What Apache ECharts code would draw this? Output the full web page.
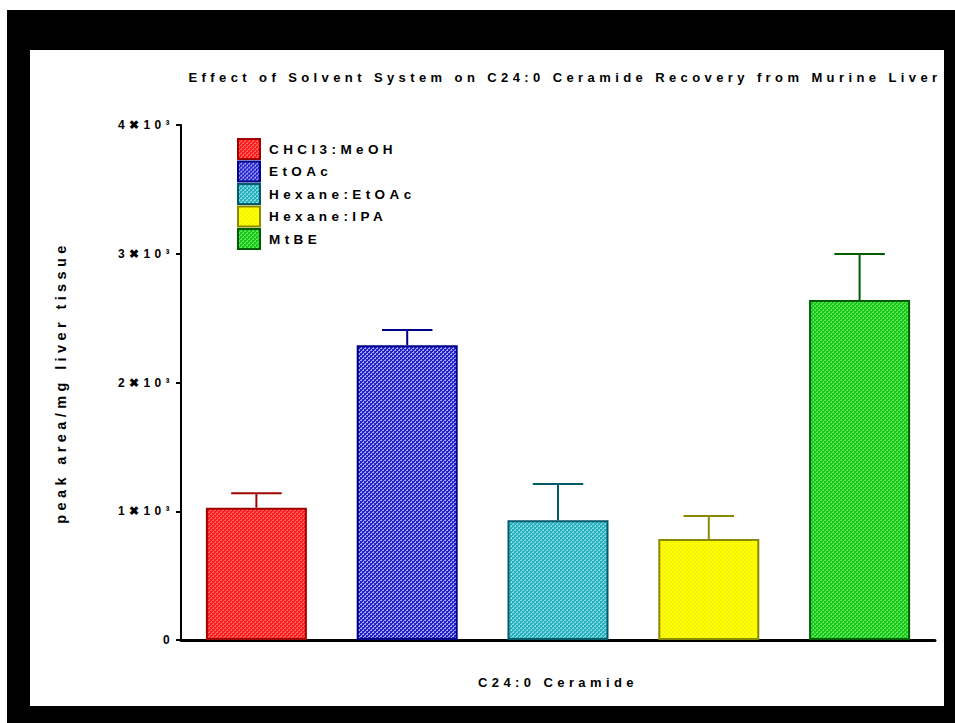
<!DOCTYPE html>
<html>
<head>
<meta charset="utf-8">
<script src="https://cdn.jsdelivr.net/npm/echarts@6/dist/echarts.min.js"></script>
<style>
  html, body { margin: 0; padding: 0; background: #fff; }
  #frame { position: absolute; left: 7px; top: 10px; width: 948px; height: 713px; background: #000; }
  #panel { position: absolute; left: 30px; top: 50px; width: 914px; height: 656px; background: #fff; }
  #chart { position: absolute; left: 0; top: 0; width: 955px; height: 723px; }
  #chart text { letter-spacing: 4.4px; }
</style>
</head>
<body>
<div id="frame"></div>
<div id="panel"></div>
<div id="chart"></div>
<script>
// Extraction solvents compared
const solvents = ['CHCl3:MeOH', 'EtOAc', 'Hexane:EtOAc', 'Hexane:IPA', 'MtBE'];
// Mean peak area per mg liver tissue
const meanArea = [1028, 2290, 930, 785, 2640];
// Upper error (SEM)
const semArea = [111, 118, 282, 178, 358];
// Y tick values and their printed labels
const yTickValues = [0, 1000, 2000, 3000, 4000];
const yTickLabels = ['0', '1\u271610\u00B3', '2\u271610\u00B3', '3\u271610\u00B3', '4\u271610\u00B3'];

const titleText = 'Effect of Solvent System on C24:0 Ceramide Recovery from Murine Liver';
const xName = 'C24:0 Ceramide';
const yName = 'peak area/mg liver tissue';

// fill, hatch highlight and outline colours per solvent
const fillBase  = ['#ff1c1c', '#2222c8', '#26aebb', '#ffff00', '#18c618'];
const fillLight = ['#ff6464', '#a8a8ff', '#86dce6', '#eeee10', '#5ee85e'];
const edgeColor = ['#a00000', '#000088', '#005a68', '#8a8a00', '#005c00'];

const FONT = '"Liberation Sans", Arial, sans-serif';
const BAR_W = 101;

// small diagonal hatch tile used as a fill pattern
function hatch(base, light) {
  const c = document.createElement('canvas');
  c.width = 4; c.height = 4;
  const g = c.getContext('2d');
  g.fillStyle = base; g.fillRect(0, 0, 4, 4);
  g.fillStyle = light;
  for (let y = 0; y < 4; y++) {
    for (let x = 0; x < 4; x++) {
      if ((x + y) % 4 === 0 || ((x + y) % 4 === 1 && y % 2 === 0)) g.fillRect(x, y, 1, 1);
    }
  }
  return { image: c, repeat: 'repeat' };
}

const chart = echarts.init(document.getElementById('chart'), null, { renderer: 'svg' });

const barSeries = solvents.map((name, i) => ({
  name: name,
  type: 'bar',
  barWidth: BAR_W,
  barGap: '-100%',
  data: solvents.map((_, j) => (j === i ? meanArea[i] : null)),
  itemStyle: {
    color: hatch(fillBase[i], fillLight[i]),
    borderColor: edgeColor[i],
    borderWidth: 2
  },
  emphasis: { disabled: true },
  animation: false
}));

const errorSeries = {
  type: 'custom',
  data: solvents.map((_, i) => [i, meanArea[i], semArea[i]]),
  renderItem: function (params, api) {
    const i = api.value(0);
    const m = api.value(1);
    const e = api.value(2);
    const base = api.coord([i, m]);
    const top = api.coord([i, m + e]);
    const half = BAR_W / 4;
    const stroke = { stroke: edgeColor[i], lineWidth: 2 };
    return {
      type: 'group',
      children: [
        { type: 'line', shape: { x1: base[0], y1: base[1], x2: top[0], y2: top[1] }, style: stroke },
        { type: 'line', shape: { x1: top[0] - half, y1: top[1], x2: top[0] + half, y2: top[1] }, style: stroke }
      ]
    };
  },
  z: 3,
  silent: true,
  animation: false
};

chart.setOption({
  backgroundColor: 'transparent',
  animation: false,
  title: {
    text: titleText,
    left: 560,
    top: 66,
    textAlign: 'center',
    textStyle: { fontFamily: FONT, fontSize: 13, fontWeight: 'bold', color: '#000' }
  },
  legend: {
    data: solvents,
    orient: 'vertical',
    left: 232,
    top: 133,
    itemWidth: 22,
    itemHeight: 20,
    itemGap: 0.5,
    icon: 'rect',
    selectedMode: false,
    textStyle: { fontFamily: FONT, fontSize: 13.5, fontWeight: 'bold', color: '#000', padding: [0, 0, 0, 4] }
  },
  grid: { left: 181, right: 20, top: 125, bottom: 83, containLabel: false },
  xAxis: {
    type: 'category',
    data: solvents,
    name: xName,
    nameLocation: 'middle',
    nameGap: 36,
    nameTextStyle: { fontFamily: FONT, fontSize: 13, fontWeight: 'bold', color: '#000' },
    axisLine: { lineStyle: { color: '#000', width: 3 } },
    axisTick: { show: false },
    axisLabel: { show: false },
    splitLine: { show: false }
  },
  yAxis: {
    type: 'value',
    min: 0,
    max: 4000,
    interval: 1000,
    name: yName,
    nameLocation: 'middle',
    nameRotate: 90,
    nameGap: 113,
    nameTextStyle: { fontFamily: FONT, fontSize: 14.5, fontWeight: 'bold', color: '#000' },
    axisLine: { show: true, lineStyle: { color: '#000', width: 2 } },
    axisTick: { show: true, length: 5, lineStyle: { color: '#000', width: 2 } },
    splitLine: { show: false },
    axisLabel: {
      margin: 7,
      fontFamily: FONT,
      fontSize: 12,
      fontWeight: 'bold',
      color: '#000',
      formatter: function (v) {
        const k = yTickValues.indexOf(v);
        return k >= 0 ? yTickLabels[k] : '';
      }
    }
  },
  series: barSeries.concat([errorSeries])
});
</script>
</body>
</html>
